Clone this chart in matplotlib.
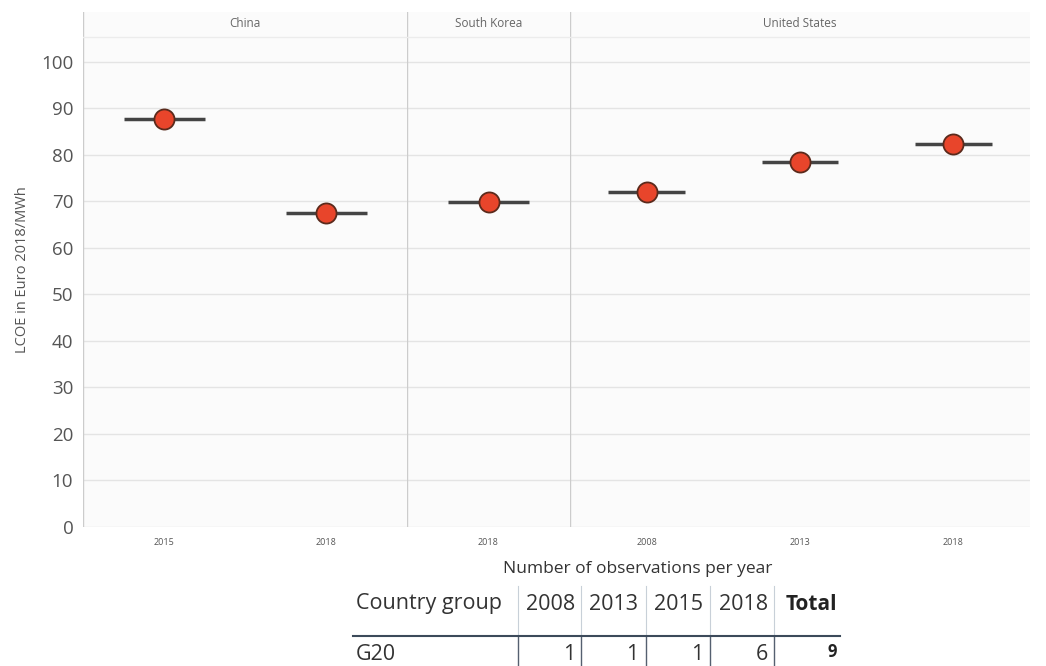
import matplotlib.pyplot as plt
import matplotlib as mpl

mpl.rcParams['font.family'] = ['Open Sans', 'DejaVu Sans']

# data
countries = ["China", "China", "South Korea", "United States", "United States", "United States"]
years = ["2015", "2018", "2018", "2008", "2013", "2018"]
lcoe = [87.7, 67.6, 69.8, 72.0, 78.4, 82.4]

panel_names = ["China", "South Korea", "United States"]

table_cols = ["2008", "2013", "2015", "2018"]
table_group = "G20"
table_counts = [1, 1, 1, 6]
table_total = 9

W, H = 1046, 666
fig = plt.figure(figsize=(W / 100, H / 100), dpi=100)

def fx(px):
    return px / W

def fy(py):
    return 1 - py / H

ymax = 110.7
# panel edges in pixels (facets have slightly different widths per category)
edges = [83, 407, 570, 1030]

for k, name in enumerate(panel_names):
    idx = [i for i, c in enumerate(countries) if c == name]
    ax = fig.add_axes([fx(edges[k]), fy(527), fx(edges[k + 1]) - fx(edges[k]), fy(12) - fy(527)])
    ax.set_facecolor('#fbfbfb')
    ax.set_ylim(0, ymax)
    ax.set_xlim(-0.5, len(idx) - 0.5)
    for s in ax.spines.values():
        s.set_visible(False)
    ax.axvline(-0.5, color='#cccccc', lw=1)

    ax.set_yticks(range(0, 101, 10))
    ax.yaxis.grid(True, color='#e4e4e4', lw=1)
    ax.set_axisbelow(True)
    if k == 0:
        ax.tick_params(axis='y', length=0, labelsize=13.5, labelcolor='#555555', pad=7)
        ax.set_ylabel("LCOE in Euro 2018/MWh", fontsize=10.5, color='#555555', labelpad=8)
    else:
        ax.tick_params(axis='y', length=0, labelleft=False)

    ax.set_xticks(range(len(idx)))
    ax.set_xticklabels([years[i] for i in idx])
    ax.tick_params(axis='x', length=0, labelsize=6.5, labelcolor='#555555', pad=8)

    # strip header
    ax.axhline(105.4, color='#ececec', lw=1)
    ax.text((len(idx) - 1) / 2, 108.2, name, ha='center', va='center', fontsize=8.5, color='#666666')

    vals = [lcoe[i] for i in idx]
    for j, v in enumerate(vals):
        ax.plot([j - 0.25, j + 0.25], [v, v], color='#444444', lw=2.5, solid_capstyle='butt', zorder=3)
    ax.scatter(range(len(vals)), vals, s=210, color='#e8452b', edgecolor='#5a2a1c', lw=1.3,
               zorder=4, clip_on=False)

# table below
fig.text(fx(638), fy(569), "Number of observations per year", ha='center', va='center',
         fontsize=12.5, color='#333333')
fig.text(fx(356), fy(604), "Country group", ha='left', va='center', fontsize=15.5, color='#333333')
fig.text(fx(356), fy(654), table_group, ha='left', va='center', fontsize=15.5, color='#333333')

seps = [518, 581, 646, 710, 774]
rights = [575, 638, 703, 768]
for j, col in enumerate(table_cols):
    fig.text(fx(rights[j]), fy(604), col, ha='right', va='center', fontsize=15.5, color='#333333')
    fig.text(fx(rights[j]), fy(654), str(table_counts[j]), ha='right', va='center', fontsize=15.5, color='#333333')
fig.text(fx(837), fy(604), "Total", ha='right', va='center', fontsize=15, color='#222222', weight='bold')
fig.text(fx(837), fy(652), str(table_total), ha='right', va='center', fontsize=12, color='#222222', weight='bold')

for x in seps:
    fig.add_artist(mpl.lines.Line2D([fx(x), fx(x)], [fy(586), fy(636)], color='#c8d0d8', lw=0.8))
    fig.add_artist(mpl.lines.Line2D([fx(x), fx(x)], [fy(636), fy(666)], color='#556070', lw=1))
fig.add_artist(mpl.lines.Line2D([fx(353), fx(840)], [fy(636), fy(636)], color='#3c4a5a', lw=1.5))

fig.savefig("out.png", dpi=100)
